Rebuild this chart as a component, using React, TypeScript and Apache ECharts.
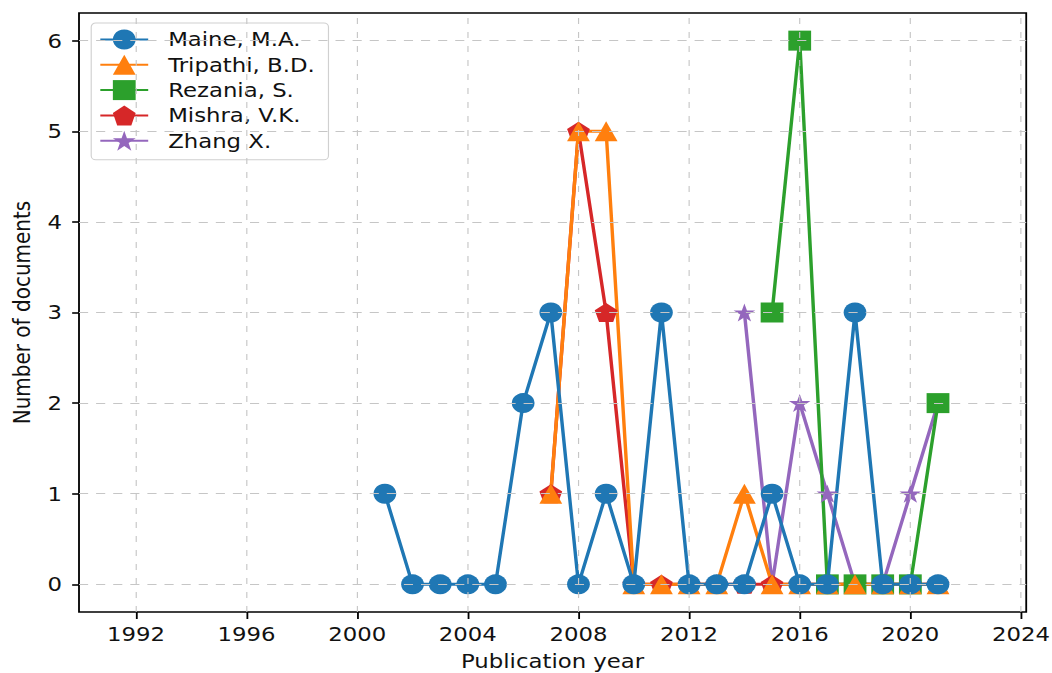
import React, { useEffect, useRef } from 'react';
import * as echarts from 'echarts';

// The reference is stretched horizontally; draw at natural width then scale X.
const S = 1.14;
const W = 1052 / S;
const H = 673;

const xTicks = [1992, 1996, 2000, 2004, 2008, 2012, 2016, 2020, 2024];
const yTicks = [0, 1, 2, 3, 4, 5, 6];

const maineYears = [2001, 2002, 2003, 2004, 2005, 2006, 2007, 2008, 2009, 2010, 2011, 2012, 2013, 2014, 2015, 2016, 2017, 2018, 2019, 2020, 2021];
const maineValues = [1, 0, 0, 0, 0, 2, 3, 0, 1, 0, 3, 0, 0, 0, 1, 0, 0, 3, 0, 0, 0];

const tripathiYears = [2007, 2008, 2009, 2010, 2011, 2012, 2013, 2014, 2015, 2016, 2017, 2018, 2019, 2020, 2021];
const tripathiValues = [1, 5, 5, 0, 0, 0, 0, 1, 0, 0, 0, 0, 0, 0, 0];

const rezaniaYears = [2015, 2016, 2017, 2018, 2019, 2020, 2021];
const rezaniaValues = [3, 6, 0, 0, 0, 0, 2];

const mishraYears = [2007, 2008, 2009, 2010, 2011, 2012, 2013, 2014, 2015, 2016, 2017, 2018, 2019, 2020, 2021];
const mishraValues = [1, 5, 3, 0, 0, 0, 0, 0, 0, 0, 0, 0, 0, 0, 0];

const zhangYears = [2014, 2015, 2016, 2017, 2018, 2019, 2020, 2021];
const zhangValues = [3, 0, 2, 1, 0, 0, 1, 2];

const legendNames = ['Maine, M.A.', 'Tripathi, B.D.', 'Rezania, S.', 'Mishra, V.K.', 'Zhang X.'];

const PENTAGON = 'path://M0,-10L9.511,-3.09L5.878,8.09L-5.878,8.09L-9.511,-3.09Z';
const STAR = 'path://M0,-10L2.245,-3.09L9.511,-3.09L3.633,1.18L5.878,8.09L0,3.82L-5.878,8.09L-3.633,1.18L-9.511,-3.09L-2.245,-3.09Z';

const FONT = 'DejaVu Sans';

function mkSeries(name: string, years: number[], values: number[], color: string, symbol: string, size: any) {
  return {
    type: 'line',
    name,
    data: years.map((y, i) => [y, values[i]]),
    symbol,
    symbolSize: size,
    showSymbol: true,
    showAllSymbol: true,
    lineStyle: { color, width: 3 },
    itemStyle: { color },
    emphasis: { disabled: true },
    z: 2,
  };
}

export default function App() {
  const ref = useRef<HTMLDivElement>(null);
  useEffect(() => {
    if (!ref.current) return;
    const chart = echarts.init(ref.current, null, { renderer: 'svg' });
    const gridLineColor = '#c6c6c6';
    chart.setOption({
      animation: false,
      backgroundColor: '#ffffff',
      grid: {
        left: 69.3,
        right: W - 900,
        top: 13,
        bottom: 61,
        show: true,
        borderColor: '#000',
        borderWidth: 1.6,
        backgroundColor: 'transparent',
        containLabel: false,
        outerBoundsMode: 'none',
      },
      legend: {
        data: legendNames,
        orient: 'vertical',
        left: 80,
        top: 23,
        padding: [6.5, 12, 9, 7],
        itemWidth: 42,
        itemHeight: 25,
        itemGap: 5.3,
        backgroundColor: 'rgba(255,255,255,0.85)',
        borderColor: '#d0d0d0',
        borderWidth: 1,
        borderRadius: 4,
        textStyle: { fontFamily: FONT, fontSize: 20, color: '#111', padding: [0, 0, 0, 12.5] },
        selectedMode: false,
      },
      xAxis: {
        type: 'value',
        min: 1989.94,
        max: 2024.19,
        name: 'Publication year',
        nameLocation: 'middle',
        nameGap: 39,
        nameTextStyle: { fontFamily: FONT, fontSize: 20, color: '#111' },
        axisLine: { show: false, onZero: false },
        splitLine: { show: false },
        axisTick: { show: true, customValues: xTicks, length: 7, lineStyle: { color: '#000', width: 1.6 } },
        axisLabel: {
          customValues: xTicks,
          formatter: (v: number) => String(v),
          fontFamily: FONT,
          fontSize: 20,
          color: '#111',
          margin: 12,
        },
      },
      yAxis: {
        type: 'value',
        min: -0.305,
        max: 6.305,
        name: 'Number of documents',
        nameLocation: 'middle',
        nameGap: 40,
        nameTextStyle: { fontFamily: FONT, fontSize: 20, color: '#111' },
        axisLine: { show: false, onZero: false },
        splitLine: { show: false },
        axisTick: { show: true, customValues: yTicks, length: 6, lineStyle: { color: '#000', width: 1.6 } },
        axisLabel: {
          customValues: yTicks,
          formatter: (v: number) => String(v),
          fontFamily: FONT,
          fontSize: 20,
          color: '#111',
          margin: 15,
        },
      },
      series: [
        {
          type: 'line',
          name: '__grid',
          data: [],
          z: 1,
          silent: true,
          markLine: {
            silent: true,
            symbol: ['none', 'none'],
            label: { show: false },
            emphasis: { disabled: true },
            data: [
              ...xTicks.map((v) => ({ xAxis: v, lineStyle: { color: gridLineColor, width: 1, type: [6, 8] } })),
              ...yTicks.map((v) => ({ yAxis: v, lineStyle: { color: gridLineColor, width: 1.1, type: [8, 7] } })),
            ],
          },
        },
        mkSeries('Zhang X.', zhangYears, zhangValues, '#9467bd', STAR, [19, 18]),
        mkSeries('Mishra, V.K.', mishraYears, mishraValues, '#d62728', PENTAGON, [20, 19]),
        mkSeries('Rezania, S.', rezaniaYears, rezaniaValues, '#2ca02c', 'rect', 20),
        mkSeries('Tripathi, B.D.', tripathiYears, tripathiValues, '#ff7f0e', 'triangle', 20),
        mkSeries('Maine, M.A.', maineYears, maineValues, '#1f77b4', 'circle', 20),
      ],
    });
    return () => chart.dispose();
  }, []);
  return (
    <div
      ref={ref}
      style={{
        position: 'fixed',
        left: 0,
        top: 0,
        width: W,
        height: H,
        transform: `scaleX(${S})`,
        transformOrigin: '0 0',
      }}
    />
  );
}
